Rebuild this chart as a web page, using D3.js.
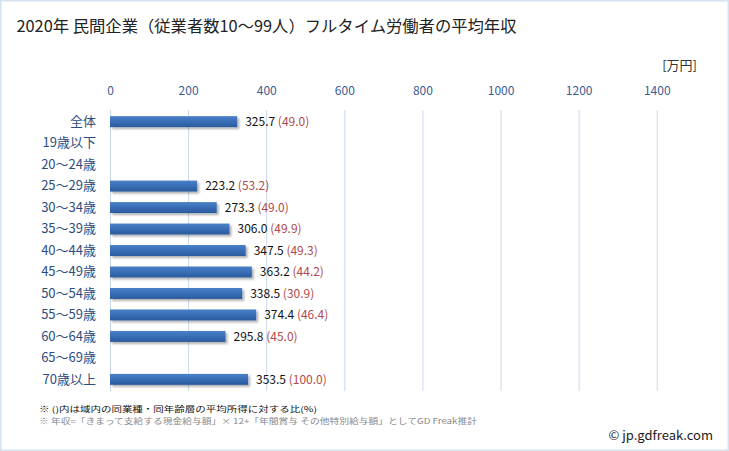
<!DOCTYPE html>
<html><head><meta charset="utf-8">
<script src="https://cdn.jsdelivr.net/npm/d3@7"></script>
<style>
html,body{margin:0;padding:0;background:#fff;}
svg{display:block;}
</style></head>
<body>
<script>
const categories = ["全体","19歳以下","20～24歳","25～29歳","30～34歳","35～39歳","40～44歳","45～49歳","50～54歳","55～59歳","60～64歳","65～69歳","70歳以上"];
const values = [325.7, null, null, 223.2, 273.3, 306.0, 347.5, 363.2, 338.5, 374.4, 295.8, null, 353.5];
const ratios = [49.0, null, null, 53.2, 49.0, 49.9, 49.3, 44.2, 30.9, 46.4, 45.0, null, 100.0];
const tickValues = [0, 200, 400, 600, 800, 1000, 1200, 1400];

const W = 729, H = 451;
const font = "'Noto Sans CJK JP', 'Noto Sans', sans-serif";
const svg = d3.select("body").append("svg").attr("width", W).attr("height", H);

const defs = svg.append("defs");
const grad = defs.append("linearGradient").attr("id","barGrad").attr("x1",0).attr("y1",0).attr("x2",0).attr("y2",1);
grad.append("stop").attr("offset","0%").attr("stop-color","#4a80c8");
grad.append("stop").attr("offset","45%").attr("stop-color","#3a70b8");
grad.append("stop").attr("offset","100%").attr("stop-color","#2a5a9c");
const filt = defs.append("filter").attr("id","shadow").attr("x","-5%").attr("y","-30%").attr("width","115%").attr("height","180%");
filt.append("feDropShadow").attr("dx",2).attr("dy",2).attr("stdDeviation",1.2).attr("flood-color","#000").attr("flood-opacity",0.3);

// frame
svg.append("rect").attr("x",0.75).attr("y",0.75).attr("width",W-1.5).attr("height",H-1.5)
  .attr("fill","none").attr("stroke","#d5e2f0").attr("stroke-width",1.5);

const x = d3.scaleLinear().domain([0, 1500]).range([110, 695.8]);
const y = d3.scaleBand().domain(categories).range([111, 390]).paddingInner(0.49).paddingOuter(0.24);

// title
svg.append("text").attr("x",16.5).attr("y",32).attr("font-family",font).attr("font-size",16)
  .attr("fill","#222").attr("textLength",500).attr("lengthAdjust","spacingAndGlyphs")
  .text("2020年 民間企業（従業者数10～99人）フルタイム労働者の平均年収");

// unit
svg.append("text").attr("x",697).attr("y",70).attr("text-anchor","end").attr("font-family",font)
  .attr("font-size",13).attr("fill","#333").text("[万円]");

// gridlines
svg.append("g").selectAll("line").data(tickValues).join("line")
  .attr("x1",d=>x(d)+0.5).attr("x2",d=>x(d)+0.5).attr("y1",110).attr("y2",391)
  .attr("stroke","#c9d9ec").attr("stroke-width",1);

// top axis
const axis = svg.append("g").attr("transform","translate(0,95)")
  .call(d3.axisTop(x).tickValues(tickValues).tickSize(0).tickPadding(0).tickFormat(d3.format("d")));
axis.select(".domain").remove();
axis.selectAll("text").attr("font-family",font).attr("font-size",12).attr("fill","#3a5c92").attr("dy","0");

// category labels
const yAxis = svg.append("g").attr("transform","translate(96,0)")
  .call(d3.axisLeft(y).tickSize(0).tickPadding(0));
yAxis.select(".domain").remove();
yAxis.selectAll("text").attr("font-family",font).attr("font-size",13).attr("fill","#2d4d80");

const data = categories.map((c,i)=>({c, v: values[i], r: ratios[i]}));

// bars
svg.append("g").selectAll("rect").data(data.filter(d=>d.v!=null)).join("rect")
  .attr("x",x(0)).attr("y",d=>y(d.c)).attr("width",d=>x(d.v)-x(0)).attr("height",y.bandwidth())
  .attr("fill","url(#barGrad)").attr("filter","url(#shadow)");

// value labels
const lab = svg.append("g").selectAll("text").data(data.filter(d=>d.v!=null)).join("text")
  .attr("x",d=>x(d.v)+8).attr("y",d=>y(d.c)+y.bandwidth()/2).attr("dy","0.36em")
  .attr("font-family",font).attr("font-size",12);
lab.append("tspan").attr("fill","#111").text(d=>d3.format(".1f")(d.v));
lab.append("tspan").attr("fill","#b04a4a").text(d=>" ("+d3.format(".1f")(d.r)+")");

// footnotes
svg.append("text").attr("x",39).attr("y",412).attr("font-family",font).attr("font-size",8)
  .attr("fill","#111").attr("textLength",278).attr("lengthAdjust","spacingAndGlyphs")
  .text("※ ()内は域内の同業種・同年齢層の平均所得に対する比(%)");
svg.append("text").attr("x",39).attr("y",424).attr("font-family",font).attr("font-size",8)
  .attr("fill","#888").attr("textLength",438).attr("lengthAdjust","spacingAndGlyphs")
  .text("※ 年収=「きまって支給する現金給与額」× 12+「年間賞与 その他特別給与額」としてGD Freak推計");
svg.append("text").attr("x",713).attr("y",440).attr("text-anchor","end").attr("font-family",font)
  .attr("font-size",13).attr("fill","#222").text("© jp.gdfreak.com");
</script>
</body></html>
